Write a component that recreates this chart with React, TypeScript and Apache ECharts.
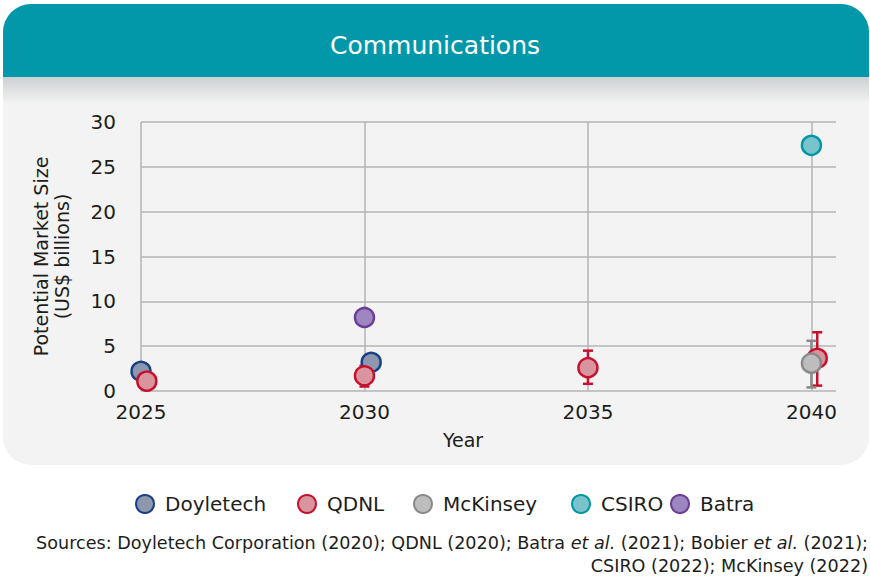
import React, { useEffect, useRef } from "react";
import * as echarts from "echarts";

const seriesNames = ["Doyletech", "QDNL", "McKinsey", "CSIRO", "Batra"];

const doyletechYears = [2025, 2030.15];
const doyletechValues = [2.2, 3.2];

const qdnlYears = [2025.13, 2030, 2035, 2040.13];
const qdnlValues = [1.1, 1.7, 2.6, 3.65];
const qdnlErrYears = [2030, 2035, 2040.13];
const qdnlLow = [0.5, 0.8, 0.6];
const qdnlHigh = [2.8, 4.5, 6.55];

const mckinseyYears = [2040];
const mckinseyValues = [3.1];
const mckinseyLow = [0.4];
const mckinseyHigh = [5.6];

const csiroYears = [2040];
const csiroValues = [27.4];

const batraYears = [2030];
const batraValues = [8.2];

const xTicks = [2025, 2030, 2035, 2040];
const yTicks = [0, 5, 10, 15, 20, 25, 30];

const sourceLine1 = "Sources: Doyletech Corporation (2020); QDNL (2020); Batra {i|et al.} (2021); Bobier {i|et al.} (2021);";
const sourceLine2 = "CSIRO (2022); McKinsey (2022)";

const FONT = "'DejaVu Sans', sans-serif";
const TEXT = "#1d1d1b";

const legendLefts = [130, 292, 408, 566, 665];

const styles: Record<string, { fill: string; stroke: string }> = {
  Doyletech: { fill: "#8d98ae", stroke: "#1a3f87" },
  QDNL: { fill: "#d8959d", stroke: "#c8102e" },
  McKinsey: { fill: "#bdbdbd", stroke: "#8a8a8a" },
  CSIRO: { fill: "#79c3cb", stroke: "#0097a7" },
  Batra: { fill: "#9e86c0", stroke: "#6a3d9a" },
};

function pairs(xs: number[], ys: number[]) {
  return xs.map((x, i) => [x, ys[i]]);
}

function scatter(name: string, xs: number[], ys: number[], z: number) {
  return {
    name,
    type: "scatter",
    data: pairs(xs, ys),
    symbol: "circle",
    symbolSize: 19,
    z,
    itemStyle: {
      color: styles[name].fill,
      borderColor: styles[name].stroke,
      borderWidth: 2.5,
      opacity: 1,
    },
  };
}

function errorBars(id: string, color: string, xs: number[], lo: number[], hi: number[], z: number) {
  return {
    id,
    type: "custom",
    z,
    clip: false,
    encode: { x: 0, y: [1, 2] },
    data: xs.map((x, i) => [x, lo[i], hi[i]]),
    renderItem: (_params: any, api: any) => {
      const x = api.value(0);
      const pLo = api.coord([x, api.value(1)]);
      const pHi = api.coord([x, api.value(2)]);
      const w = 5;
      const st = { stroke: color, lineWidth: 2.5 };
      return {
        type: "group",
        children: [
          { type: "line", shape: { x1: pLo[0], y1: pLo[1], x2: pHi[0], y2: pHi[1] }, style: st },
          { type: "line", shape: { x1: pLo[0] - w, y1: pLo[1], x2: pLo[0] + w, y2: pLo[1] }, style: st },
          { type: "line", shape: { x1: pHi[0] - w, y1: pHi[1], x2: pHi[0] + w, y2: pHi[1] }, style: st },
        ],
      };
    },
  };
}

export default function App() {
  const ref = useRef<HTMLDivElement>(null);

  useEffect(() => {
    if (!ref.current) return;
    const chart = echarts.init(ref.current, undefined, { renderer: "svg" });
    const gridColor = "#b4b4b4";
    chart.setOption({
      animation: false,
      backgroundColor: "transparent",
      textStyle: { fontFamily: FONT, color: TEXT },
      title: {
        text: "Communications",
        left: "center",
        top: 28,
        textStyle: { color: "#ffffff", fontSize: 25, fontWeight: "normal", fontFamily: FONT },
      },
      grid: { left: 141, right: 34, top: 122, bottom: 187 },
      xAxis: {
        type: "value",
        min: 2025,
        max: 2040.55,
        interval: 5,
        axisLine: { show: false },
        axisTick: { show: false },
        axisLabel: {
          margin: 11,
          fontSize: 20,
          color: TEXT,
          fontFamily: FONT,
          showMaxLabel: false,
          formatter: (v: number) => (xTicks.includes(v) ? String(v) : ""),
        },
        splitLine: { show: true, showMaxLine: false, lineStyle: { color: gridColor, width: 1.5 } },
      },
      yAxis: {
        type: "value",
        min: 0,
        max: 30,
        interval: 5,
        name: "Potential Market Size\n(US$ billions)",
        nameLocation: "middle",
        nameGap: 69,
        nameTextStyle: { fontSize: 19, color: TEXT, fontFamily: FONT, lineHeight: 21 },
        axisLine: { show: false },
        axisTick: { show: false },
        axisLabel: {
          margin: 25,
          fontSize: 20,
          color: TEXT,
          fontFamily: FONT,
          formatter: (v: number) => (yTicks.includes(v) ? String(v) : ""),
        },
        splitLine: { show: true, lineStyle: { color: gridColor, width: 1.5 } },
      },
      legend: seriesNames.map((n, i) => ({
        data: [{ name: n, icon: "circle" }],
        left: legendLefts[i],
        top: 489,
        padding: 5,
        itemWidth: 18,
        itemHeight: 18,
        textStyle: { fontSize: 20, color: TEXT, fontFamily: FONT, padding: [0, 0, 0, 6] },
        selectedMode: false,
      })),
      graphic: [
        {
          type: "text",
          x: 463,
          y: 440,
          style: { text: "Year", fontSize: 19, fill: TEXT, fontFamily: FONT, align: "center", verticalAlign: "middle" },
        },
        {
          type: "text",
          x: 868,
          y: 543,
          style: {
            text: sourceLine1,
            align: "right",
            verticalAlign: "middle",
            fontSize: 17.6,
            fill: TEXT,
            fontFamily: FONT,
            rich: { i: { fontStyle: "italic", fontSize: 17.6, fontFamily: FONT, fill: TEXT } },
          },
        },
        {
          type: "text",
          x: 868,
          y: 566,
          style: {
            text: sourceLine2,
            align: "right",
            verticalAlign: "middle",
            fontSize: 17.6,
            fill: TEXT,
            fontFamily: FONT,
          },
        },
      ],
      series: [
        errorBars("qdnlErr", styles.QDNL.stroke, qdnlErrYears, qdnlLow, qdnlHigh, 1),
        errorBars("mckErr", styles.McKinsey.stroke, mckinseyYears, mckinseyLow, mckinseyHigh, 1),
        scatter("Doyletech", doyletechYears, doyletechValues, 2),
        scatter("QDNL", qdnlYears, qdnlValues, 3),
        scatter("McKinsey", mckinseyYears, mckinseyValues, 4),
        scatter("CSIRO", csiroYears, csiroValues, 4),
        scatter("Batra", batraYears, batraValues, 4),
      ],
    });
    return () => chart.dispose();
  }, []);

  return (
    <div style={{ position: "fixed", left: 0, top: 0, width: 870, height: 578, background: "#ffffff" }}>
      <div
        style={{
          position: "absolute",
          left: 3,
          top: 4,
          width: 866,
          height: 461,
          borderRadius: 28,
          background: "#f2f3f2",
          overflow: "hidden",
        }}
      >
        <div style={{ position: "absolute", left: 0, top: 0, width: 866, height: 73, background: "#0298a9" }} />
        <div
          style={{
            position: "absolute",
            left: 0,
            top: 73,
            width: 866,
            height: 26,
            background: "linear-gradient(#cdd0d3, #f2f3f2)",
          }}
        />
      </div>
      <div ref={ref} style={{ position: "absolute", left: 0, top: 0, width: 870, height: 578 }} />
    </div>
  );
}
